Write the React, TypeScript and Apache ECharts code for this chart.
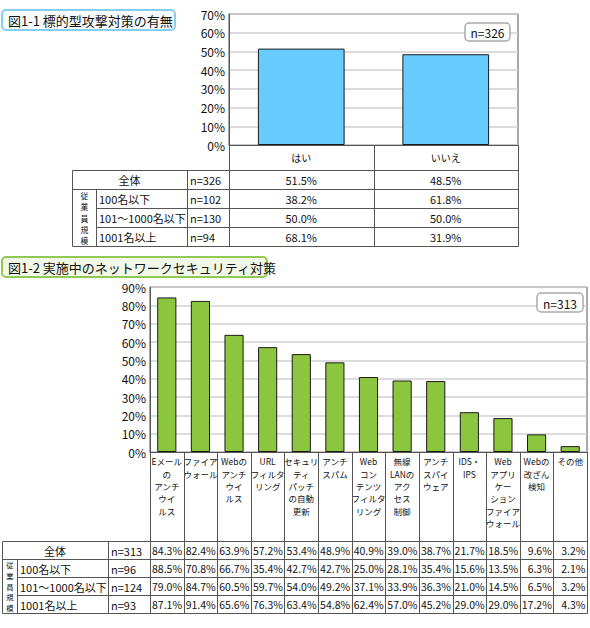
import React, { useEffect, useRef } from "react";
import * as echarts from "echarts";

const FONT = '"Noto Sans CJK JP", "Noto Sans", sans-serif';

// ---------- Data ----------
const chart1Title = "図1-1 標的型攻撃対策の有無";
const chart1Categories = ["はい", "いいえ"];
const chart1Sample = "n=326";

const chart2Title = "図1-2 実施中のネットワークセキュリティ対策";
const chart2Categories = [
  "Eメール\nの\nアンチ\nウイ\nルス",
  "ファイア\nウォール",
  "Webの\nアンチ\nウイ\nルス",
  "URL\nフィルタ\nリング",
  "セキュリ\nティ\nパッチ\nの自動\n更新",
  "アンチ\nスパム",
  "Web\nコン\nテンツ\nフィルタ\nリング",
  "無線\nLANの\nアク\nセス\n制御",
  "アンチ\nスパイ\nウェア",
  "IDS・\nIPS",
  "Web\nアプリ\nケー\nション\nファイア\nウォール",
  "Webの\n改ざん\n検知",
  "その他",
];
const chart2Sample = "n=313";

const rowLabels = ["全体", "100名以下", "101～1000名以下", "1001名以上"];
const groupLabel = "従業員規模";

const table1Counts = ["n=326", "n=102", "n=130", "n=94"];
const table1All = [51.5, 48.5];
const table1Small = [38.2, 61.8];
const table1Mid = [50.0, 50.0];
const table1Large = [68.1, 31.9];

const table2Counts = ["n=313", "n=96", "n=124", "n=93"];
const table2All = [84.3, 82.4, 63.9, 57.2, 53.4, 48.9, 40.9, 39.0, 38.7, 21.7, 18.5, 9.6, 3.2];
const table2Small = [88.5, 70.8, 66.7, 35.4, 42.7, 42.7, 25.0, 28.1, 35.4, 15.6, 13.5, 6.3, 2.1];
const table2Mid = [79.0, 84.7, 60.5, 59.7, 54.0, 49.2, 37.1, 33.9, 36.3, 21.0, 14.5, 6.5, 3.2];
const table2Large = [87.1, 91.4, 65.6, 76.3, 63.4, 54.8, 62.4, 57.0, 45.2, 29.0, 29.0, 17.2, 4.3];

// ---------- Layout ----------
const P1 = { left: 229, top: 14, right: 518, bottom: 145 };
const T1 = { left: 72, group: 96, label: 187, header: 170, rowH: 19 };
const P2 = { left: 150, top: 287, right: 587, bottom: 452 };
const T2 = { left: 2, group: 17, label: 108, header: 541, rowH: 18 };

const LINE = "#555";
const px = (v: number) => Math.round(v) + 0.5;

function textEl(text: string, x: number, y: number, size: number, align: string, extra: any = {}) {
  return {
    type: "text",
    silent: true,
    z: 100,
    style: {
      text,
      x,
      y,
      fill: "#111",
      fontSize: size,
      fontFamily: FONT,
      align,
      textAlign: align,
      verticalAlign: "middle",
      textVerticalAlign: "middle",
      ...extra,
    },
  };
}

function tableGraphics(P: any, T: any, nCols: number, counts: string[], rows: number[][], valueAlign: string, valueSize: number, labelSize: number) {
  const els: any[] = [];
  const colW = (P.right - P.left) / nCols;
  const bottom = T.header + T.rowH * rows.length;
  const line = (x1: number, y1: number, x2: number, y2: number) =>
    els.push({ type: "line", silent: true, z: 100, shape: { x1, y1, x2, y2 }, style: { stroke: LINE, lineWidth: 1 } });
  for (let i = 0; i <= nCols; i++) {
    const x = px(P.left + i * colW);
    line(x, P.bottom, x, px(bottom));
  }
  line(px(T.left), px(T.header), px(T.left), px(bottom));
  line(px(T.group), px(T.header + T.rowH), px(T.group), px(bottom));
  line(px(T.label), px(T.header), px(T.label), px(bottom));
  for (let r = 0; r <= rows.length; r++) {
    const y = px(T.header + r * T.rowH);
    const x1 = r === 0 || r === 1 || r === rows.length ? T.left : T.group;
    line(px(x1), y, px(P.right), y);
  }
  rows.forEach((vals, r) => {
    const cy = T.header + (r + 0.5) * T.rowH + 0.5;
    if (r === 0) els.push(textEl(rowLabels[r], (T.left + T.label) / 2, cy, labelSize, "center"));
    else els.push(textEl(rowLabels[r], T.group + 3, cy, labelSize, "left"));
    els.push(textEl(counts[r], T.label + 3, cy, labelSize, "left"));
    vals.forEach((v, i) => {
      const x = valueAlign === "center" ? P.left + (i + 0.5) * colW : P.left + (i + 1) * colW - 1.5;
      els.push(textEl(v.toFixed(1) + "%", x, cy, valueSize, valueAlign));
    });
  });
  // vertical group label: stacked upright characters over the three size rows
  const chars = groupLabel.split("");
  const spanTop = T.header + T.rowH;
  const step = ((rows.length - 1) * T.rowH) / chars.length;
  const groupSize = Math.floor((step / 1.46) * 10) / 10;
  chars.forEach((c, k) => {
    els.push(textEl(c, (T.left + T.group) / 2 + 0.5, spanTop + (k + 0.5) * step + 0.5, groupSize, "center"));
  });
  return els;
}

function titleBox(text: string, x: number, y: number, w: number, h: number, stroke: string, fill: string) {
  return [
    { type: "rect", silent: true, z: 100, shape: { x, y, width: w, height: h, r: 4 }, style: { fill, stroke, lineWidth: 2 } },
    textEl(text, x + 6, y + h / 2 + 0.5, 13, "left"),
  ];
}

function sampleBox(text: string, x: number, y: number, w: number, h: number) {
  return [
    { type: "rect", silent: true, z: 100, shape: { x, y, width: w, height: h, r: 4 }, style: { fill: "#fff", stroke: "#aaa", lineWidth: 1.5 } },
    textEl(text, x + w / 2, y + h / 2 + 0.5, 12, "center"),
  ];
}

export default function App() {
  const ref = useRef<HTMLDivElement>(null);
  useEffect(() => {
    if (!ref.current) return;
    const chart = echarts.init(ref.current, null, { renderer: "svg" });
    const yAxisCommon = {
      type: "value",
      min: 0,
      interval: 10,
      axisLine: { show: true, lineStyle: { color: LINE } },
      axisTick: { show: false },
      axisLabel: { formatter: "{value}%", fontSize: 12, color: "#111", fontFamily: FONT, margin: 4 },
      splitLine: { lineStyle: { color: "#d0d0d0", width: 1.5 } },
    };
    const graphics = [
      ...titleBox(chart1Title, 2, 10, 173, 20, "#86cdf2", "#f7fcff"),
      ...titleBox(chart2Title, 2, 257, 265, 20, "#92c955", "#f1f8e8"),
      ...sampleBox(chart1Sample, 465, 23, 45, 18),
      ...sampleBox(chart2Sample, 537, 293, 46, 19),
      ...tableGraphics(P1, T1, chart1Categories.length, table1Counts, [table1All, table1Small, table1Mid, table1Large], "center", 11, 11),
      ...tableGraphics(P2, T2, chart2Categories.length, table2Counts, [table2All, table2Small, table2Mid, table2Large], "right", 10.5, 11),
    ];
    chart.setOption({
      animation: false,
      grid: [
        { left: P1.left, top: P1.top, width: P1.right - P1.left, height: P1.bottom - P1.top, show: true, borderColor: LINE, borderWidth: 1, backgroundColor: "#fff" },
        { left: P2.left, top: P2.top, width: P2.right - P2.left, height: P2.bottom - P2.top, show: true, borderColor: LINE, borderWidth: 1, backgroundColor: "#fff" },
      ],
      xAxis: [
        {
          type: "category",
          gridIndex: 0,
          data: chart1Categories,
          axisLine: { lineStyle: { color: LINE } },
          axisTick: { show: false },
          axisLabel: { interval: 0, fontSize: 10, color: "#111", fontFamily: FONT, margin: 7, verticalAlign: "top" },
        },
        {
          type: "category",
          gridIndex: 1,
          data: chart2Categories,
          axisLine: { lineStyle: { color: LINE } },
          axisTick: { show: false },
          axisLabel: { interval: 0, fontSize: 8.5, lineHeight: 12.4, color: "#111", fontFamily: FONT, margin: 3, verticalAlign: "top", align: "center" },
        },
      ],
      yAxis: [
        { ...yAxisCommon, gridIndex: 0, max: 70 },
        { ...yAxisCommon, gridIndex: 1, max: 90 },
      ],
      series: [
        {
          type: "bar",
          xAxisIndex: 0,
          yAxisIndex: 0,
          data: table1All,
          barWidth: "60%",
          itemStyle: { color: "#66ccff", borderColor: "#1a1a1a", borderWidth: 1 },
        },
        {
          type: "bar",
          xAxisIndex: 1,
          yAxisIndex: 1,
          data: table2All,
          barWidth: "57%",
          itemStyle: { color: "#8cc63f", borderColor: "#1a1a1a", borderWidth: 1 },
        },
      ],
      graphic: { elements: graphics },
    });
    return () => chart.dispose();
  }, []);
  return <div ref={ref} style={{ position: "fixed", left: 0, top: 0, width: 590, height: 628, background: "#fff" }} />;
}
